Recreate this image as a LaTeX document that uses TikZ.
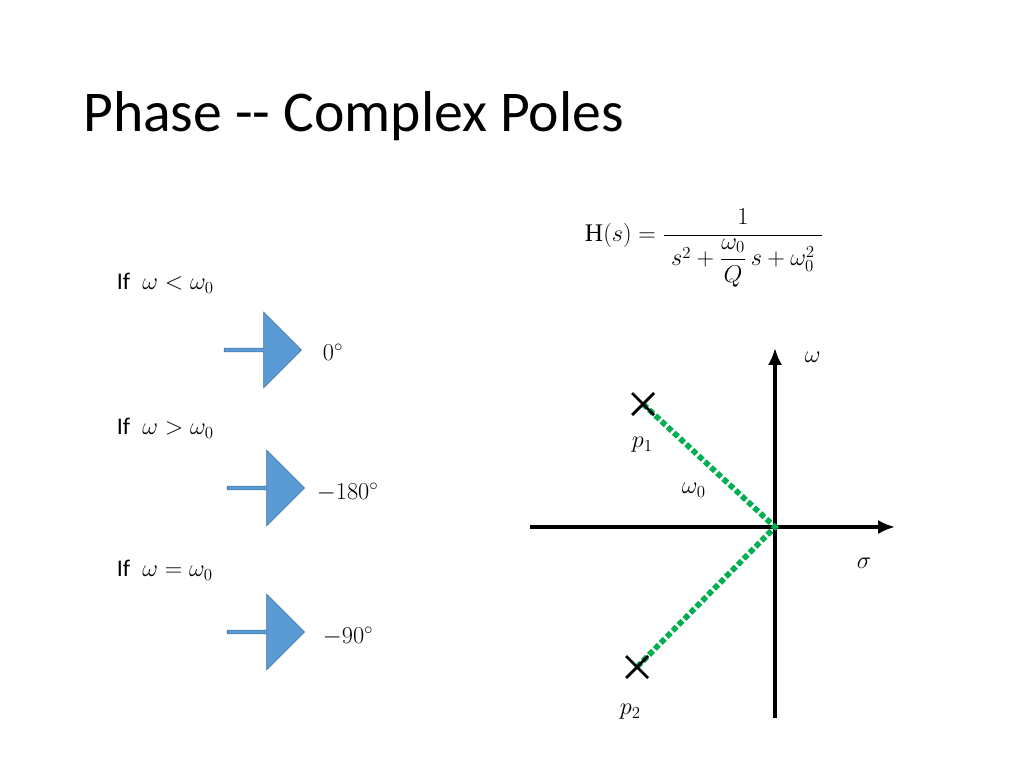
\documentclass[tikz,border=0pt]{standalone}
\usepackage{amsmath}
\usepackage{fontspec}
\setmainfont{Liberation Serif}
\newfontfamily\slidefont{Carlito}
\usetikzlibrary{shapes.arrows,arrows.meta}
\definecolor{arrowblue}{HTML}{5B9BD5}
\definecolor{arrowedge}{HTML}{41719C}
\definecolor{polegreen}{HTML}{00B050}
\tikzstyle{blockarrow}=[single arrow,draw=arrowedge,fill=arrowblue,minimum width=54pt,minimum height=55pt,single arrow head extend=4pt,inner sep=0pt]
\tikzstyle{cond}=[anchor=west,font=\slidefont\fontsize{17}{20}\selectfont]
\tikzstyle{mth}=[anchor=west,font=\fontsize{18}{21}\selectfont]
\tikzstyle{axis}=[line width=2.2pt,-{Latex[length=12pt,width=10pt]}]
\tikzstyle{pole}=[line width=2pt]
\begin{document}
\begin{tikzpicture}[x=0.025cm,y=-0.025cm]
	\useasboundingbox (0,0) rectangle (1024,768);
	\node[anchor=base west,inner sep=0,font=\slidefont\fontsize{41}{48}\selectfont] (title) at (83,132) {Phase -- Complex Poles};
	% conditions
	\node[cond] (if1) at (112,283) {If\; $\omega<\omega_0$};
	\node[blockarrow] (a1) at (262,350) {};
	\node[mth] (r1) at (318,352) {$0^\circ$};
	\node[cond] (if2) at (112,428) {If\; $\omega>\omega_0$};
	\node[blockarrow] (a2) at (265,488) {};
	\node[mth] (r2) at (312,492) {$-180^\circ$};
	\node[cond] (if3) at (112,570) {If\; $\omega=\omega_0$};
	\node[blockarrow] (a3) at (265,632) {};
	\node[mth] (r3) at (318,636) {$-90^\circ$};
	% transfer function
	\node[mth] (tf) at (580,248) {$\mathrm{H}(s)=\dfrac{1}{\;s^2+\dfrac{\omega_0}{Q}\,s+\omega_0^2\;}$};
	% s-plane
	\coordinate (o) at (775,527);
	\coordinate (ybot) at (775,718);
	\coordinate (ytop) at (775,348);
	\coordinate (xl) at (530,527);
	\coordinate (xr) at (895,527);
	\draw[axis] (ybot) -- (ytop);
	\draw[axis] (xl) -- (xr);
	\coordinate (p1) at (643,404);
	\coordinate (p2) at (637,667);
	\draw[polegreen,line width=4pt,dotted] (p1) -- (o) -- (p2);
	\foreach \p in {p1,p2}
		\draw[pole] ([shift={(-11,-11)}]\p) -- ([shift={(11,11)}]\p) ([shift={(-11,11)}]\p) -- ([shift={(11,-11)}]\p);
	\node[mth] (lw) at (800,357) {$\omega$};
	\node[mth] (ls) at (852,563) {$\sigma$};
	\node[mth] (lp1) at (627,445) {$p_1$};
	\node[mth] (lp2) at (615,712) {$p_2$};
	\node[mth] (lw0) at (677,490) {$\omega_0$};
\end{tikzpicture}
\end{document}
